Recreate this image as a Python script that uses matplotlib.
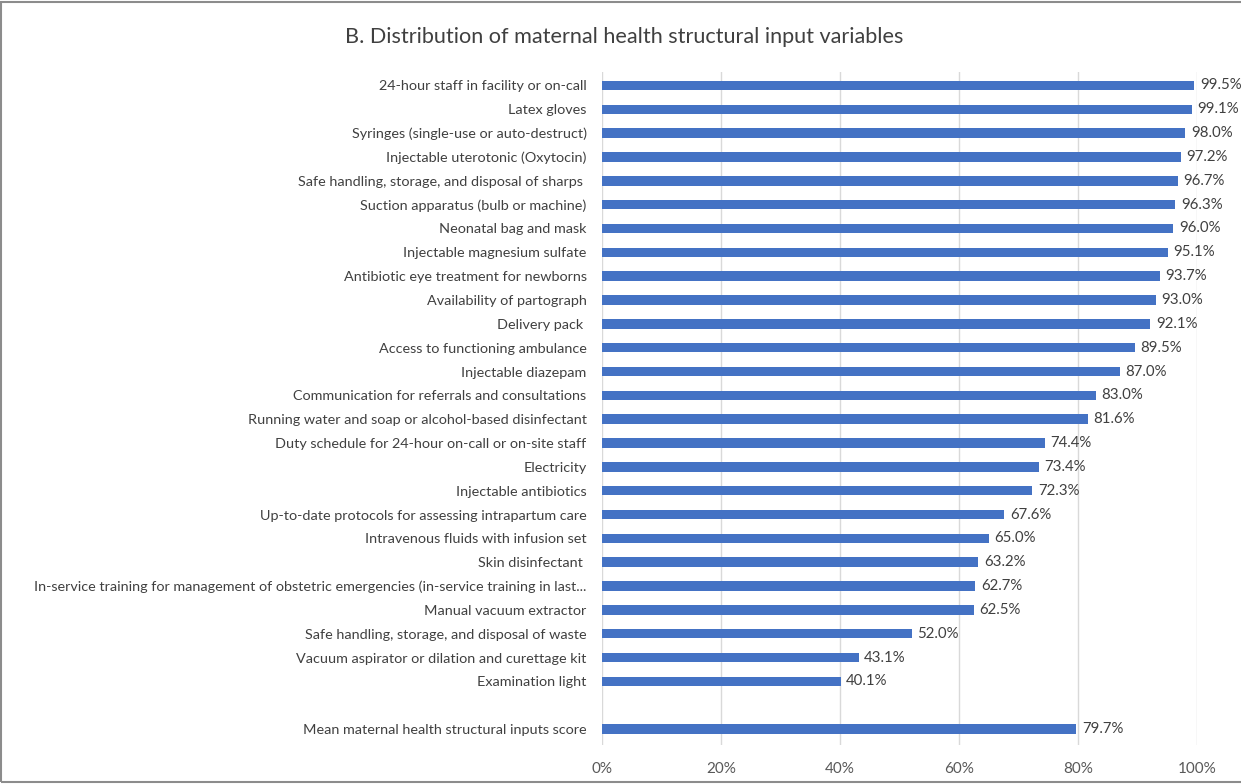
import numpy as np
import matplotlib.pyplot as plt
from matplotlib.ticker import PercentFormatter
from matplotlib.patches import Rectangle

items = [
    "24-hour staff in facility or on-call",
    "Latex gloves",
    "Syringes (single-use or auto-destruct)",
    "Injectable uterotonic (Oxytocin)",
    "Safe handling, storage, and disposal of sharps ",
    "Suction apparatus (bulb or machine)",
    "Neonatal bag and mask",
    "Injectable magnesium sulfate",
    "Antibiotic eye treatment for newborns",
    "Availability of partograph",
    "Delivery pack ",
    "Access to functioning ambulance",
    "Injectable diazepam",
    "Communication for referrals and consultations",
    "Running water and soap or alcohol-based disinfectant",
    "Duty schedule for 24-hour on-call or on-site staff",
    "Electricity",
    "Injectable antibiotics",
    "Up-to-date protocols for assessing intrapartum care",
    "Intravenous fluids with infusion set",
    "Skin disinfectant ",
    "In-service training for management of obstetric emergencies (in-service training in last...",
    "Manual vacuum extractor",
    "Safe handling, storage, and disposal of waste",
    "Vacuum aspirator or dilation and curettage kit",
    "Examination light",
]
values = [99.5, 99.1, 98.0, 97.2, 96.7, 96.3, 96.0, 95.1, 93.7, 93.0, 92.1, 89.5,
          87.0, 83.0, 81.6, 74.4, 73.4, 72.3, 67.6, 65.0, 63.2, 62.7, 62.5, 52.0,
          43.1, 40.1]
mean_label = "Mean maternal health structural inputs score"
mean_value = 79.7

plt.rcParams['font.family'] = ['Lato', 'DejaVu Sans']

labels = items + [mean_label]
vals = values + [mean_value]
ypos = list(range(len(items))) + [len(items) + 1]

fig = plt.figure(figsize=(12.41, 7.84), dpi=100)
ax = fig.add_axes([0.485, 0.0497, 0.4798, 0.858])

bar_color = "#4472C4"
ax.barh(ypos, vals, height=0.4, color=bar_color, zorder=2)
for y, v in zip(ypos, vals):
    ax.annotate(f"{v:.1f}%", (v, y), xytext=(4, 0), textcoords="offset points",
                va="center", ha="left", fontsize=10.8, color="#404040")

ax.set_ylim(ypos[-1] + 0.67, -0.55)
ax.set_xlim(0, 100)
ax.set_xticks(np.arange(0, 101, 20))
ax.xaxis.set_major_formatter(PercentFormatter(decimals=0))
ax.set_yticks(ypos)
ax.set_yticklabels(labels)
ax.tick_params(axis='y', length=0, pad=11, labelsize=10.4, labelcolor="#404040")
ax.tick_params(axis='x', length=0, pad=12, labelsize=11, labelcolor="#595959")
ax.grid(axis='x', color="#D9D9D9", linewidth=1, zorder=0)
for s in ax.spines.values():
    s.set_visible(False)

fig.text(0.503, 0.953, "B. Distribution of maternal health structural input variables",
         ha="center", va="center", fontsize=15.6, color="#404040")

fig.patches.append(Rectangle((0.001, 0.002), 1.2, 0.996, transform=fig.transFigure,
                             fill=False, edgecolor="#8C8C8C", linewidth=1.5))

fig.savefig("out.png", dpi=100)
